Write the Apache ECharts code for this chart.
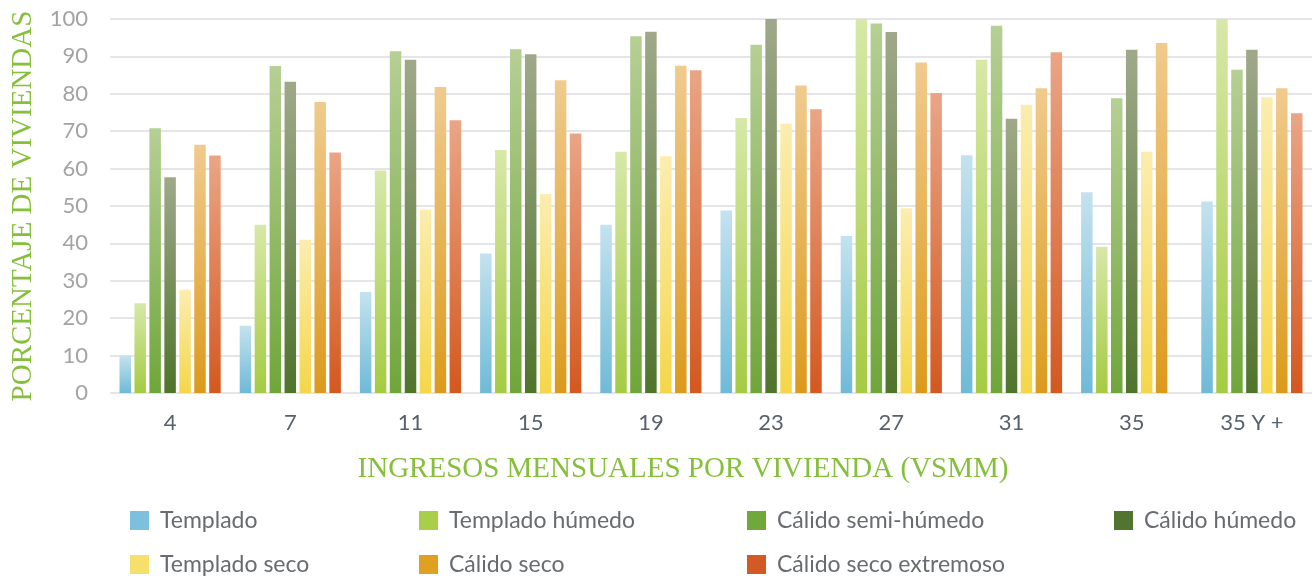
<!DOCTYPE html>
<html>
<head>
<meta charset="utf-8">
<script src="https://cdn.jsdelivr.net/npm/echarts@6/dist/echarts.min.js"></script>
<style>
    html, body { margin: 0; padding: 0; background: #fff; }
    #barBasic { width: 1315px; height: 578px; }
</style>
</head>
<body>
<div id="barBasic"></div>
<script>
// categorias del eje x
var categorias = ['4', '7', '11', '15', '19', '23', '27', '31', '35', '35 Y +'];
var yTicks = [0, 10, 20, 30, 40, 50, 60, 70, 80, 90, 100];

// porcentaje de viviendas por clima
var templado            = [10, 18, 27, 37.3, 45, 48.8, 42, 63.6, 53.7, 51.2];
var templadoHumedo      = [24, 45, 59.5, 65, 64.5, 73.5, 100, 89.1, 39.1, 100];
var calidoSemiHumedo    = [70.8, 87.4, 91.4, 91.9, 95.4, 93.1, 98.8, 98.2, 78.8, 86.4];
var calidoHumedo        = [57.7, 83.2, 89.1, 90.6, 96.6, 100, 96.5, 73.3, 91.8, 91.8];
var templadoSeco        = [27.6, 41, 49, 53.2, 63.3, 72, 49.4, 77.1, 64.5, 79.1];
var calidoSeco          = [66.4, 77.8, 81.8, 83.6, 87.5, 82.2, 88.4, 81.5, 93.6, 81.5];
var calidoSecoExtremoso = [63.5, 64.3, 72.9, 69.4, 86.3, 75.9, 80.2, 91.1, null, 74.8];

var nombres = ['Templado', 'Templado húmedo', 'Cálido semi-húmedo', 'Cálido húmedo',
    'Templado seco', 'Cálido seco', 'Cálido seco extremoso'];

function echartBar(){
    var myChart = echarts.init(document.getElementById('barBasic'));
    var verde = '#86bf3c';
    var fuente = 'Lato, "Open Sans", sans-serif';

    var valores = [templado, templadoHumedo, calidoSemiHumedo, calidoHumedo,
        templadoSeco, calidoSeco, calidoSecoExtremoso];
    // [arriba, abajo, leyenda]
    var colores = [
        ['#c4e2ef', '#6fbad8', '#7cc0dd'],
        ['#d7e8a8', '#a5cb42', '#a9cf4a'],
        ['#b6cf95', '#6fa63a', '#70a83b'],
        ['#9fa98a', '#4f742b', '#517530'],
        ['#fbedb0', '#f5d64a', '#f7df6c'],
        ['#f0cb8e', '#dc9a1c', '#e0a022'],
        ['#eaa586', '#d4581f', '#d45a25']
    ];

    var series = [];
    for (var i = 0; i < valores.length; i++) {
        series.push({
            name: nombres[i],
            type: 'bar',
            barWidth: 11.5,
            barGap: '30%',
            data: valores[i],
            itemStyle: {
                color: new echarts.graphic.LinearGradient(0, 0, 0, 1, [
                    {offset: 0, color: colores[i][0]},
                    {offset: 1, color: colores[i][1]}
                ])
            }
        });
    }

    // leyendas sueltas, cada una en su lugar
    var posLeyenda = [[125, 504], [414, 504], [742, 504], [1109, 504],
        [125, 548], [414, 548], [742, 548]];
    var legend = [];
    for (var j = 0; j < nombres.length; j++) {
        legend.push({
            left: posLeyenda[j][0],
            top: posLeyenda[j][1],
            itemWidth: 19,
            itemHeight: 19,
            itemGap: 0,
            icon: 'rect',
            data: [{name: nombres[j], itemStyle: {color: colores[j][2]}}],
            textStyle: {fontFamily: fuente, fontSize: 23, color: '#686c70', padding: [0, 0, 0, 6]}
        });
    }

    myChart.setOption({
        animation: false,
        legend: legend,
        grid: {left: 110, right: 3, top: 19, bottom: 185},
        xAxis: {
            type: 'category',
            data: categorias,
            name: 'INGRESOS MENSUALES POR VIVIENDA (VSMM)',
            nameLocation: 'middle',
            nameGap: 62,
            // el titulo esta un poco a la izquierda del centro
            nameTextStyle: {fontFamily: '"Liberation Serif", serif', fontSize: 29, color: verde, padding: [0, 56, 0, 0]},
            axisLine: {show: false},
            axisTick: {show: false},
            axisLabel: {fontFamily: fuente, fontSize: 22, color: '#56616b', margin: 19}
        },
        yAxis: {
            type: 'value',
            min: yTicks[0],
            max: yTicks[yTicks.length - 1],
            interval: 10,
            name: 'PORCENTAJE DE VIVIENDAS',
            nameLocation: 'middle',
            nameRotate: 90,
            nameGap: 72,
            nameTextStyle: {fontFamily: '"Liberation Serif", serif', fontSize: 29, color: verde},
            axisLabel: {fontFamily: fuente, fontSize: 22, color: '#a3a3a3', margin: 22},
            splitLine: {lineStyle: {color: '#dcdde2', width: 1.5}}
        },
        series: series
    });
}

echartBar();
</script>
</body>
</html>
